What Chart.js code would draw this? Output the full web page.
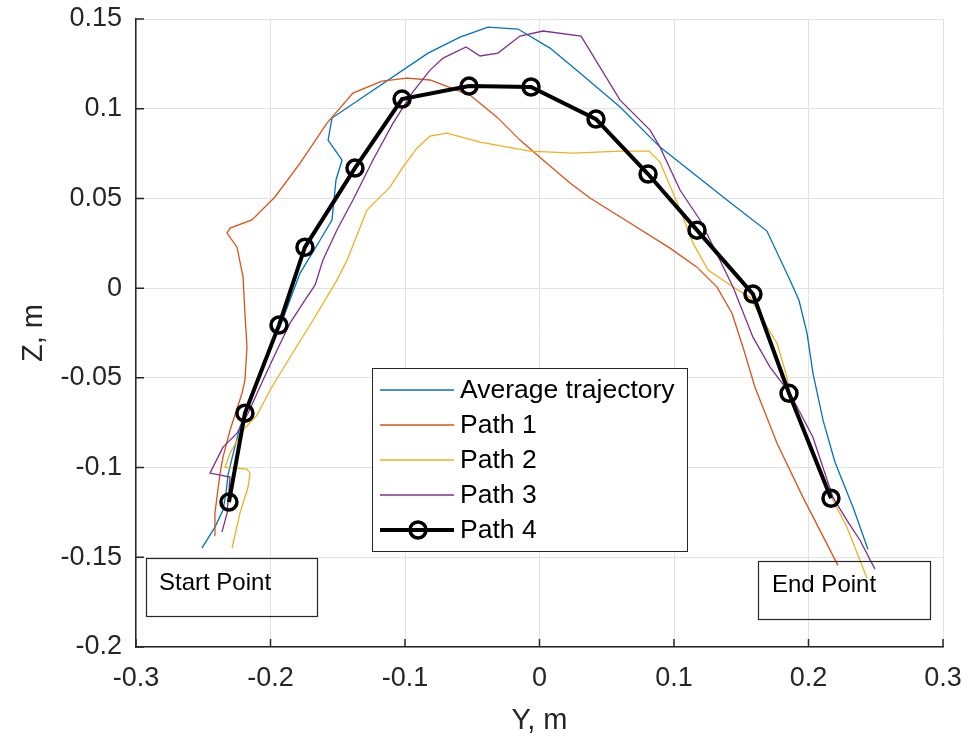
<!DOCTYPE html>
<html>
<head>
<meta charset="utf-8">
<script src="https://cdn.jsdelivr.net/npm/chart.js@4"></script>
<style>
  body { margin: 0; background: #fff; }
</style>
</head>
<body>
<canvas id="myChart" width="975" height="739"></canvas>
<script>
const xTicks = [-0.3, -0.2, -0.1, 0, 0.1, 0.2, 0.3];
const yTicks = [-0.2, -0.15, -0.1, -0.05, 0, 0.05, 0.1, 0.15];

const seriesNames = ['Average trajectory', 'Path 1', 'Path 2', 'Path 3', 'Path 4'];

const avgY = [-0.251, -0.2413, -0.2353, -0.2331, -0.2316, -0.2286, -0.2227, -0.2175, -0.21, -0.2004, -0.193, -0.1833, -0.178, -0.1632, -0.1543, -0.1513, -0.1468, -0.1572, -0.1543, -0.0829, -0.0591, -0.0383, -0.016, 0.0078, 0.0301, 0.0599, 0.0896, 0.1394, 0.1691, 0.1862, 0.1929, 0.1989, 0.2033, 0.2108, 0.2197, 0.2331, 0.2442];
const avgZ = [-0.1449, -0.1332, -0.1237, -0.1142, -0.1042, -0.0947, -0.0775, -0.0663, -0.0513, -0.0329, -0.0217, -0.0022, 0.0084, 0.0267, 0.038, 0.0603, 0.0714, 0.0825, 0.0948, 0.131, 0.1399, 0.1455, 0.1444, 0.1338, 0.1199, 0.1009, 0.0786, 0.0491, 0.0318, 0.0045, -0.0067, -0.0251, -0.0474, -0.0736, -0.097, -0.1221, -0.1455];

const p1Y = [-0.242, -0.2413, -0.2375, -0.2353, -0.2301, -0.2212, -0.219, -0.2175, -0.219, -0.2204, -0.2249, -0.2323, -0.2301, -0.2138, -0.1967, -0.178, -0.158, -0.1387, -0.1171, -0.0985, -0.0814, -0.0517, -0.0316, -0.0145, 0.0026, 0.0227, 0.0375, 0.0673, 0.097, 0.1171, 0.132, 0.1431, 0.1513, 0.1602, 0.1766, 0.1959, 0.2219];
const p1Z = [-0.1376, -0.1254, -0.1031, -0.0942, -0.0792, -0.0586, -0.0513, -0.0329, -0.014, 0.0061, 0.0228, 0.0307, 0.0335, 0.038, 0.0508, 0.0697, 0.092, 0.1087, 0.1154, 0.1171, 0.116, 0.1076, 0.0953, 0.0825, 0.0714, 0.0586, 0.0502, 0.0363, 0.0223, 0.0117, 0.0006, -0.014, -0.0329, -0.0552, -0.0865, -0.1166, -0.1545];

const p2Y = [-0.2286, -0.2227, -0.2167, -0.2152, -0.2175, -0.2338, -0.2301, -0.2204, -0.21, -0.2004, -0.1855, -0.1684, -0.1506, -0.1431, -0.1283, -0.1112, -0.1015, -0.0911, -0.0814, -0.0688, -0.0442, -0.0071, 0.0249, 0.0599, 0.0814, 0.0896, 0.0993, 0.1067, 0.1141, 0.1253, 0.1439, 0.1565, 0.1662, 0.1766, 0.184, 0.1862, 0.2182, 0.2286, 0.2435];
const p2Z = [-0.1449, -0.1254, -0.111, -0.1031, -0.1009, -0.0998, -0.092, -0.0792, -0.0708, -0.0569, -0.0385, -0.0179, 0.0045, 0.0156, 0.0435, 0.0563, 0.0675, 0.078, 0.0848, 0.0864, 0.0814, 0.0764, 0.0753, 0.0764, 0.0764, 0.0703, 0.053, 0.0396, 0.0251, 0.0101, 0.0006, -0.005, -0.0179, -0.0307, -0.0496, -0.0586, -0.1182, -0.1333, -0.1617];

const p3Y = [-0.2361, -0.2323, -0.2301, -0.245, -0.2353, -0.2249, -0.2167, -0.2056, -0.1952, -0.1855, -0.1744, -0.1669, -0.161, -0.1506, -0.1387, -0.1238, -0.1089, -0.0948, -0.0814, -0.0717, -0.0546, -0.0442, -0.0309, -0.0145, 0.0026, 0.0309, 0.0599, 0.0822, 0.0896, 0.1045, 0.1193, 0.1268, 0.1439, 0.1587, 0.1714, 0.1862, 0.2033, 0.2182, 0.2286, 0.2383, 0.2494];
const p3Z = [-0.136, -0.1254, -0.1053, -0.1031, -0.0886, -0.0808, -0.0697, -0.0513, -0.0346, -0.0195, -0.0067, 0.0017, 0.0157, 0.0324, 0.0491, 0.0714, 0.092, 0.1087, 0.1215, 0.1282, 0.1344, 0.1294, 0.131, 0.1405, 0.1433, 0.1405, 0.1048, 0.0881, 0.0786, 0.0547, 0.038, 0.0268, 0.0006, -0.0273, -0.044, -0.0586, -0.0831, -0.1166, -0.1294, -0.1405, -0.1566];

const p4Y = [-0.2309, -0.219, -0.1937, -0.1744, -0.1372, -0.1022, -0.0524, -0.0063, 0.042, 0.0807, 0.1171, 0.1587, 0.1855, 0.2167];
const p4Z = [-0.1192, -0.0697, -0.0206, 0.0228, 0.0669, 0.1054, 0.1126, 0.1121, 0.0942, 0.0636, 0.0323, -0.0033, -0.0586, -0.1171];

const FONT = "'Liberation Sans', Arial, Helvetica, sans-serif";
const colors = ['#0072BD', '#D95319', '#EDB120', '#7E2F8E', '#000000'];

const pts = (xs, ys) => xs.map((x, i) => ({ x: x, y: ys[i] }));

function thin(i, xs, ys) {
    return {
        label: seriesNames[i],
        data: pts(xs, ys),
        showLine: true,
        borderColor: colors[i],
        borderWidth: 1.3,
        pointRadius: 0,
        tension: 0,
        order: 5 - i
    };
}

// MATLAB-style inward ticks, legend box and text boxes
const extras = {
    id: 'extras',
    afterDatasetsDraw(chart) {
        const ctx = chart.ctx;
        const xs = chart.scales.x, ys = chart.scales.y;
        const a = chart.chartArea;
        ctx.save();
        ctx.strokeStyle = '#262626';
        ctx.lineWidth = 1.5;
        ctx.beginPath();
        xTicks.forEach(v => {
            const px = xs.getPixelForValue(v);
            ctx.moveTo(px, a.bottom);
            ctx.lineTo(px, a.bottom - 8);
        });
        yTicks.forEach(v => {
            const py = ys.getPixelForValue(v);
            ctx.moveTo(a.left, py);
            ctx.lineTo(a.left + 8, py);
        });
        ctx.stroke();

        // legend
        const lx = 372, ly = 368, lw = 315, lh = 183;
        ctx.fillStyle = '#fff';
        ctx.fillRect(lx, ly, lw, lh);
        ctx.lineWidth = 1;
        ctx.strokeStyle = '#262626';
        ctx.strokeRect(lx + 0.5, ly + 0.5, lw, lh);
        const rows = [390, 425, 460, 495, 530];
        ctx.font = '26.5px ' + FONT;
        ctx.textBaseline = 'middle';
        ctx.textAlign = 'left';
        seriesNames.forEach((name, i) => {
            const y = rows[i];
            ctx.strokeStyle = colors[i];
            ctx.lineWidth = i === 4 ? 4 : 1.3;
            ctx.beginPath();
            ctx.moveTo(380, y);
            ctx.lineTo(454, y);
            ctx.stroke();
            if (i === 4) {
                ctx.lineWidth = 3.5;
                ctx.beginPath();
                ctx.arc(418, y, 8, 0, Math.PI * 2);
                ctx.stroke();
            }
            ctx.fillStyle = '#000';
            ctx.fillText(name, 460, y + 1);
        });

        // text boxes
        ctx.lineWidth = 1.2;
        ctx.strokeStyle = '#262626';
        ctx.strokeRect(146.5, 558.5, 171, 58);
        ctx.strokeRect(758.5, 561.5, 172, 58);
        ctx.font = '24px ' + FONT;
        ctx.fillStyle = '#000';
        ctx.fillText('Start Point', 159, 583);
        ctx.fillText('End Point', 772, 585);
        ctx.restore();
    }
};

const ctx = document.getElementById('myChart').getContext('2d');
const myChart = new Chart(ctx, {
    type: 'scatter',
    data: {
        datasets: [
            thin(0, avgY, avgZ),
            thin(1, p1Y, p1Z),
            thin(2, p2Y, p2Z),
            thin(3, p3Y, p3Z),
            {
                label: seriesNames[4],
                data: pts(p4Y, p4Z),
                showLine: true,
                borderColor: '#000',
                borderWidth: 4,
                pointRadius: 8,
                pointBorderWidth: 3.5,
                pointBorderColor: '#000',
                pointBackgroundColor: 'rgba(0,0,0,0)',
                tension: 0,
                order: 0
            }
        ]
    },
    options: {
        responsive: false,
        animation: false,
        events: [],
        layout: { padding: { left: 0, top: 19, right: 32, bottom: 0 } },
        plugins: {
            legend: { display: false },
            tooltip: { enabled: false }
        },
        scales: {
            x: {
                type: 'linear',
                min: -0.3,
                max: 0.3,
                afterBuildTicks: s => { s.ticks = xTicks.map(v => ({ value: v })); },
                afterFit: s => { s.height = 92; s.paddingLeft = 0; s.paddingRight = 0; },
                grid: { color: '#e2e2e2', lineWidth: 1, drawTicks: false },
                border: { color: '#262626', width: 1.5 },
                ticks: {
                    padding: 15,
                    color: '#262626',
                    font: { family: FONT, size: 27 },
                    callback: v => String(v)
                },
                title: {
                    display: true,
                    text: 'Y, m',
                    color: '#262626',
                    font: { family: FONT, size: 29 },
                    padding: { top: 0, bottom: 1 }
                }
            },
            y: {
                type: 'linear',
                min: -0.2,
                max: 0.15,
                afterBuildTicks: s => { s.ticks = yTicks.map(v => ({ value: v })); },
                afterFit: s => { s.width = 136; s.paddingTop = 0; s.paddingBottom = 0; },
                grid: { color: '#e2e2e2', lineWidth: 1, drawTicks: false },
                border: { color: '#262626', width: 1.5 },
                ticks: {
                    padding: 14,
                    color: '#262626',
                    font: { family: FONT, size: 27 },
                    callback: v => String(v)
                },
                title: {
                    display: true,
                    text: 'Z, m',
                    color: '#262626',
                    font: { family: FONT, size: 29 },
                    padding: { top: 17, bottom: 0 }
                }
            }
        }
    },
    plugins: [extras]
});
</script>
</body>
</html>
